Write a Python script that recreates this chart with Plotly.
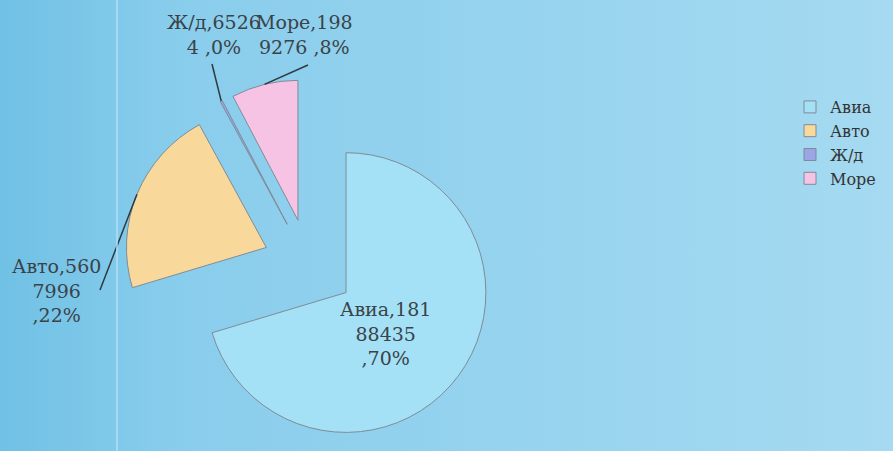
import math
import plotly.graph_objects as go

# ---- data ----
labels = ["Авиа", "Авто", "Ж/д", "Море"]
values = [18188435, 5607996, 65264, 1989276]
pulls = [0.33, 0.33, 0.33, 0.33]
# where the value string wraps in the original labels
wrap_at = [3, 3, 4, 3]
colors = ["#a4e1f6", "#f9d89c", "#9aa6e6", "#f7c3e4"]

total = sum(values)
texts = []
for lab, v, w in zip(labels, values, wrap_at):
    s = str(v)
    pct = round(v / total * 100)
    if lab in ("Ж/д", "Море"):
        texts.append(f"{lab},{s[:w]}<br>{s[w:]} ,{pct}%")
    else:
        texts.append(f"{lab},{s[:w]}<br>{s[w:]}<br>,{pct}%")

# label placement (pixels) and leader-line ends
label_pos = [(385, 333), (57, 290), (214, 34), (304, 34)]
leader_end = [None, (100, 290), (212, 64), (308, 65)]

W, H = 893, 451
cx, cy, half = 309, 265, 186
FONT = "DejaVu Serif"

fig = go.Figure()

# background gradient
fig.add_trace(go.Scatter(
    x=[0, 1, 1, 0, 0], y=[0, 0, 1, 1, 0], mode="lines", fill="toself",
    line=dict(width=0), hoverinfo="skip", showlegend=False,
    fillgradient=dict(type="horizontal",
                      colorscale=[[0, "#70c1e5"], [0.2, "#89cdec"], [1, "#a5daf1"]]),
))

fig.add_trace(go.Pie(
    labels=labels, values=values, textinfo="none",
    sort=False, direction="clockwise", rotation=0,
    pull=pulls,
    marker=dict(colors=colors, line=dict(color="#7f8c96", width=1)),
    domain=dict(x=[(cx - half) / W, (cx + half) / W], y=[1 - (cy + half) / H, 1 - (cy - half) / H]),
    showlegend=True,
))

def px2paper(x, y):
    return x / W, 1 - y / H

# labels
for t, (lx, ly) in zip(texts, label_pos):
    x, y = px2paper(lx, ly)
    fig.add_annotation(x=x, y=y, xref="paper", yref="paper", text=t, showarrow=False,
                       xanchor="center", yanchor="middle", align="center",
                       font=dict(family=FONT, size=19, color="#3a4348"))

# leader lines: from the outer arc at each slice's bisector to its label
r = half / (1 + max(pulls))
start = 0.0
for v, p, end in zip(values, pulls, leader_end):
    frac = v / total
    mid = (start + frac / 2) * 2 * math.pi
    start += frac
    if end is None:
        continue
    dx, dy = math.sin(mid), -math.cos(mid)
    sx, sy = cx + (1 + p) * r * dx, cy + (1 + p) * r * dy
    x0, y0 = px2paper(sx, sy)
    x1, y1 = px2paper(*end)
    fig.add_shape(type="line", xref="paper", yref="paper", x0=x0, y0=y0, x1=x1, y1=y1,
                  line=dict(color="#2f3a40", width=1.5))

fig.add_shape(type="line", xref="paper", yref="paper", x0=117 / W, x1=117 / W, y0=0, y1=1,
              line=dict(color="#b2e0f5", width=1.5), layer="above")

fig.update_layout(
    width=W, height=H,
    margin=dict(l=0, r=0, t=0, b=0, autoexpand=False),
    paper_bgcolor="#8fcfec", plot_bgcolor="rgba(0,0,0,0)",
    xaxis=dict(visible=False, range=[0, 1], domain=[0, 1], fixedrange=True),
    yaxis=dict(visible=False, range=[0, 1], domain=[0, 1], fixedrange=True),
    legend=dict(x=790 / W, y=1 - 90 / H, xanchor="left", yanchor="top",
                font=dict(family=FONT, size=16, color="#333333"),
                bgcolor="rgba(0,0,0,0)", tracegroupgap=0),
)

fig.write_html("out.html", config={"displayModeBar": False},
               post_script="document.body.style.margin='0px';")
